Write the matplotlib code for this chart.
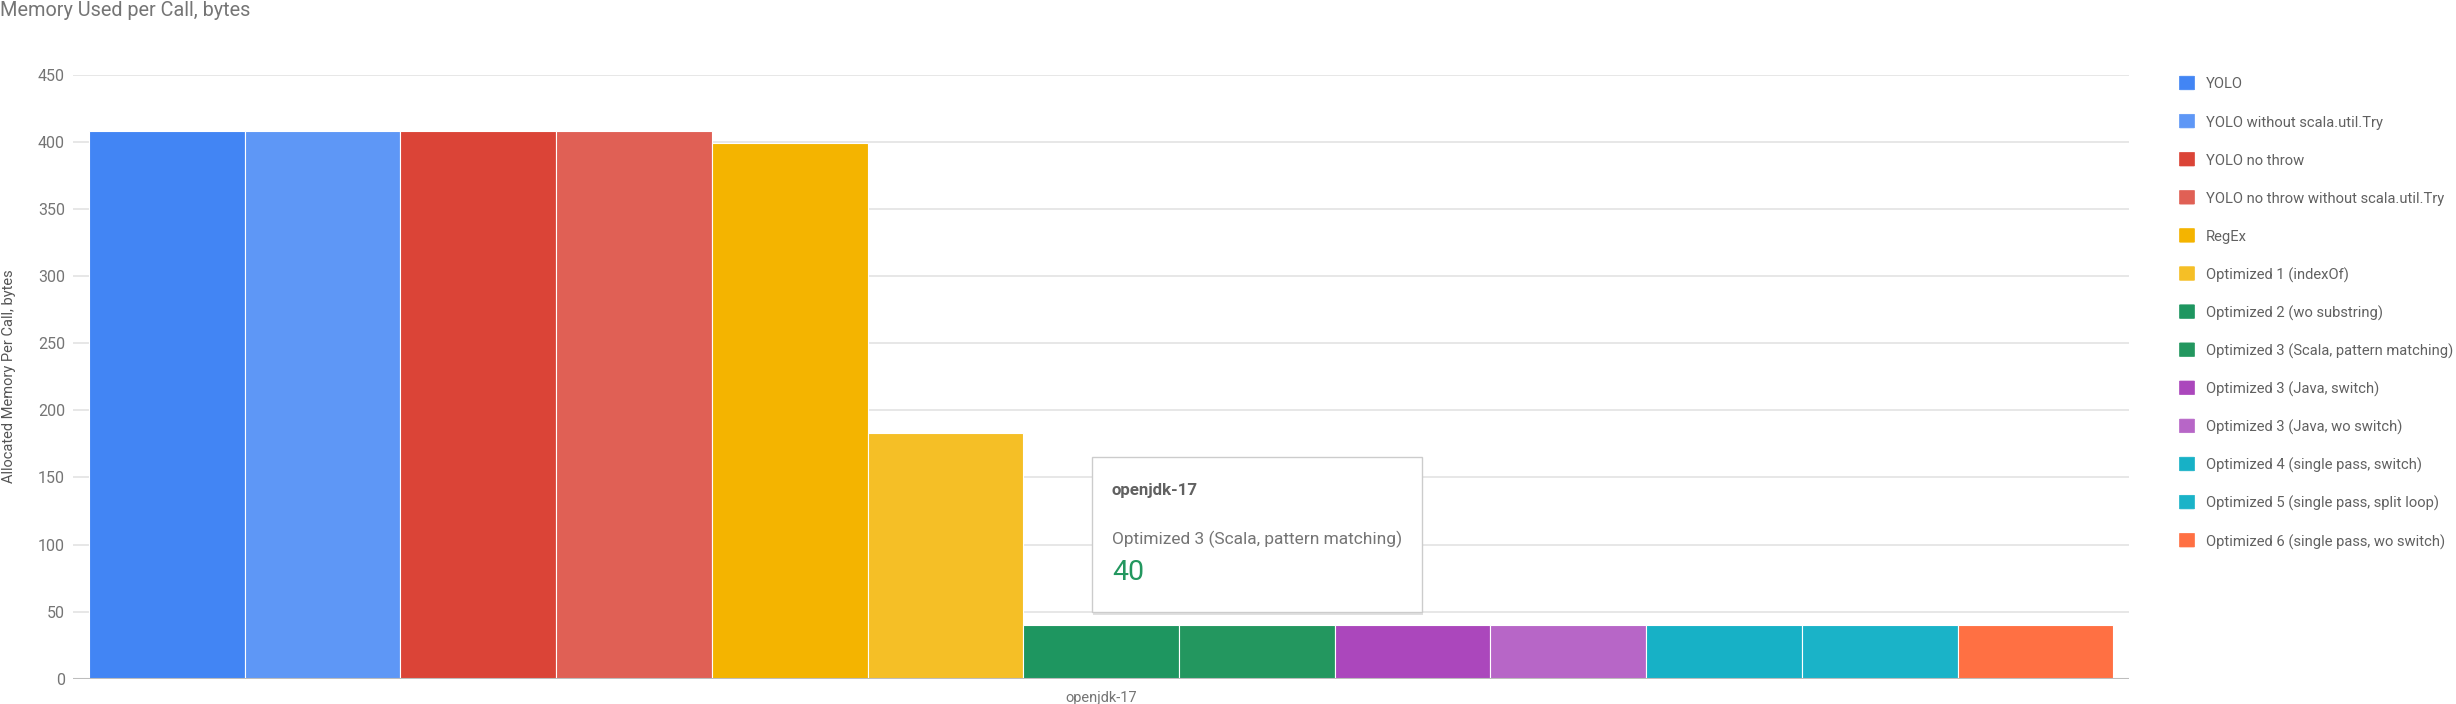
import matplotlib
matplotlib.use("Agg")
import matplotlib.pyplot as plt
from matplotlib.patches import FancyBboxPatch, Rectangle

plt.rcParams['font.family'] = ['Roboto', 'DejaVu Sans']

# ---- data ----
category = "openjdk-17"
series = [
    "YOLO",
    "YOLO without scala.util.Try",
    "YOLO no throw",
    "YOLO no throw without scala.util.Try",
    "RegEx",
    "Optimized 1 (indexOf)",
    "Optimized 2 (wo substring)",
    "Optimized 3 (Scala, pattern matching)",
    "Optimized 3 (Java, switch)",
    "Optimized 3 (Java, wo switch)",
    "Optimized 4 (single pass, switch)",
    "Optimized 5 (single pass, split loop)",
    "Optimized 6 (single pass, wo switch)",
]
values = [408, 408, 408, 408, 399, 183, 40, 40, 40, 40, 40, 40, 40]
colors = ["#4285F4", "#5E97F6", "#DB4437", "#E06055", "#F4B400", "#F5BF26",
          "#1E9660", "#23975F", "#AB47BC", "#B766C7", "#17B1C6", "#1AB3C8", "#FF7043"]
yticks = [0, 50, 100, 150, 200, 250, 300, 350, 400, 450]
title = "Memory Used per Call, bytes"
ylabel = "Allocated Memory Per Call, bytes"
tooltip_series = 7

W, H = 2456, 704
fig = plt.figure(figsize=(W / 100, H / 100), dpi=100)
ax = fig.add_axes([73.3 / W, 1 - 678.7 / H, (2129 - 73.3) / W, (678.7 - 75) / H])

n = len(series)
for i, (v, c) in enumerate(zip(values, colors)):
    ax.bar(i - (n - 1) / 2, v, width=1.0, color=c, edgecolor="white", linewidth=0.8, zorder=3)

ax.set_xlim(-n / 2 - 0.1, n / 2 + 0.1)
ax.set_ylim(0, 450)
ax.set_yticks(yticks)
ax.set_xticks([0])
ax.set_xticklabels([category])
ax.yaxis.grid(True, color="#E3E3E3", linewidth=1.2, zorder=0)
ax.set_axisbelow(True)
for s in ["top", "right", "left", "bottom"]:
    ax.spines[s].set_visible(False)
ax.axhline(0, color="#BDBDBD", linewidth=1.5, zorder=4)
ax.tick_params(axis="y", length=0, pad=6, labelsize=11.5, labelcolor="#757575")
ax.tick_params(axis="x", length=0, pad=9, labelsize=10.5, labelcolor="#757575")

fig.text(9 / W, 1 - 376.5 / H, ylabel, rotation=90, ha="center", va="center",
         fontsize=10.5, color="#555555")
fig.text(0, 1 - 15.5 / H, title, ha="left", va="baseline", fontsize=14.3, color="#757575")

# legend
for i, (name, c) in enumerate(zip(series, colors)):
    yc = 83 + i * 38.1
    fig.patches.append(FancyBboxPatch(((2180.5) / W, 1 - (yc + 6.5) / H), 13 / W, 13 / H,
                                      boxstyle="round,pad=0.0004", transform=fig.transFigure,
                                      facecolor=c, edgecolor=c, linewidth=0.5))
    fig.text(2206 / W, 1 - yc / H, name, ha="left", va="center_baseline",
             fontsize=10.6, color="#616161")

# tooltip
bx0, by0, bx1, by1 = 1092, 457, 1422, 612
fig.patches.append(Rectangle(((bx0 + 1) / W, 1 - (by1 + 3) / H), (bx1 - bx0) / W, (by1 - by0) / H,
                             transform=fig.transFigure, facecolor="#000000", alpha=0.12,
                             edgecolor="none", zorder=9))
fig.patches.append(Rectangle((bx0 / W, 1 - by1 / H), (bx1 - bx0) / W, (by1 - by0) / H,
                             transform=fig.transFigure, facecolor="white",
                             edgecolor="#CCCCCC", linewidth=1.0, zorder=10))
fig.text(1112 / W, 1 - 491 / H, category, ha="left", va="center", fontsize=12.2,
         fontweight="bold", color="#616161", zorder=11)
fig.text(1112 / W, 1 - 539 / H, series[tooltip_series], ha="left", va="center",
         fontsize=12.55, color="#757575", zorder=11)
fig.text(1112 / W, 1 - 573 / H, str(values[tooltip_series]), ha="left", va="center",
         fontsize=20.5, color=colors[tooltip_series], zorder=11)

fig.savefig("out.png", dpi=100, facecolor="white")
